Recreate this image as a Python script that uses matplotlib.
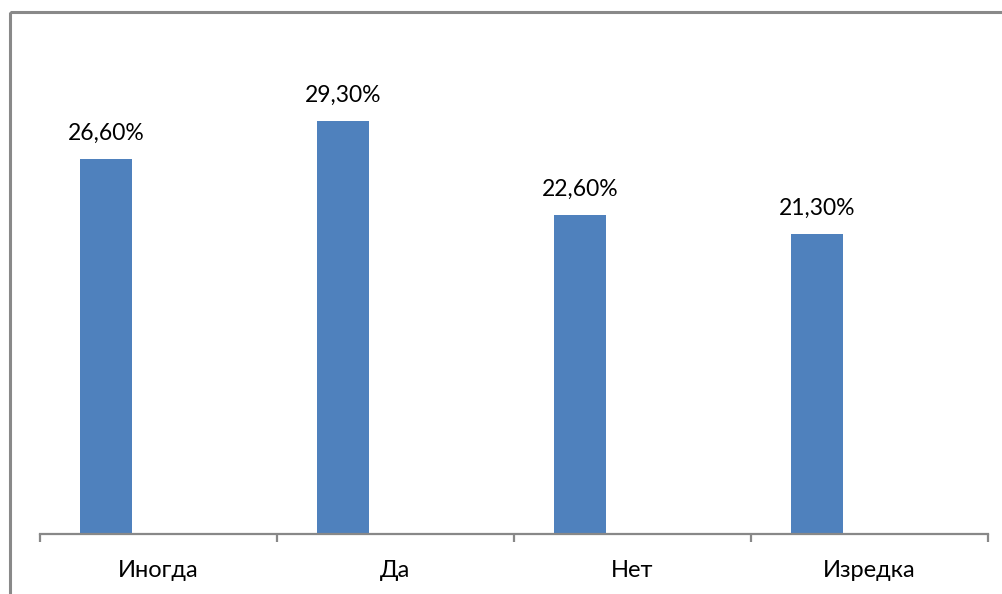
import matplotlib
matplotlib.use("Agg")
import matplotlib.pyplot as plt
from matplotlib.patches import Rectangle

categories = ["Иногда", "Да", "Нет", "Изредка"]
values = [26.6, 29.3, 22.6, 21.3]
value_labels = ["26,60%", "29,30%", "22,60%", "21,30%"]

W, H = 1003, 594
fig = plt.figure(figsize=(W / 100, H / 100), dpi=100)
plt.rcParams["font.family"] = ["Lato", "DejaVu Sans"]

# outer chart border (continues past right/bottom edges)
fig.patches.append(Rectangle((10 / W, 1 - 12 / H), 1.2, -1.2, transform=fig.transFigure,
                             fill=False, edgecolor="#898989", linewidth=2.2, zorder=0))

left, right, bottom_px, top_px = 40, 988, 534, 40.7
ax = fig.add_axes([left / W, 1 - bottom_px / H, (right - left) / W, (bottom_px - top_px) / H])

offset = -0.2215
width = 0.219
xs = [i + offset for i in range(len(categories))]
bars = ax.bar(xs, values, width=width, color="#4F81BD", zorder=2)

for x, v, lab in zip(xs, values, value_labels):
    ax.annotate(lab, (x, v), xytext=(0, 11), textcoords="offset points",
                ha="center", va="bottom", fontsize=16.5, color="#000000")

ax.set_xlim(-0.5, len(categories) - 0.5)
ax.set_ylim(0, 35)

for s in ["top", "right", "left"]:
    ax.spines[s].set_visible(False)
ax.spines["bottom"].set_color("#888888")
ax.spines["bottom"].set_linewidth(1.6)

ax.set_yticks([])
ax.set_xticks(range(len(categories)))
ax.set_xticklabels(categories, fontsize=17)
ax.tick_params(axis="x", which="major", length=0, pad=19)
ax.set_xticks([i - 0.5 for i in range(len(categories) + 1)], minor=True)
ax.tick_params(axis="x", which="minor", length=6, width=1.6, color="#888888")

fig.savefig("out.png", dpi=100)
